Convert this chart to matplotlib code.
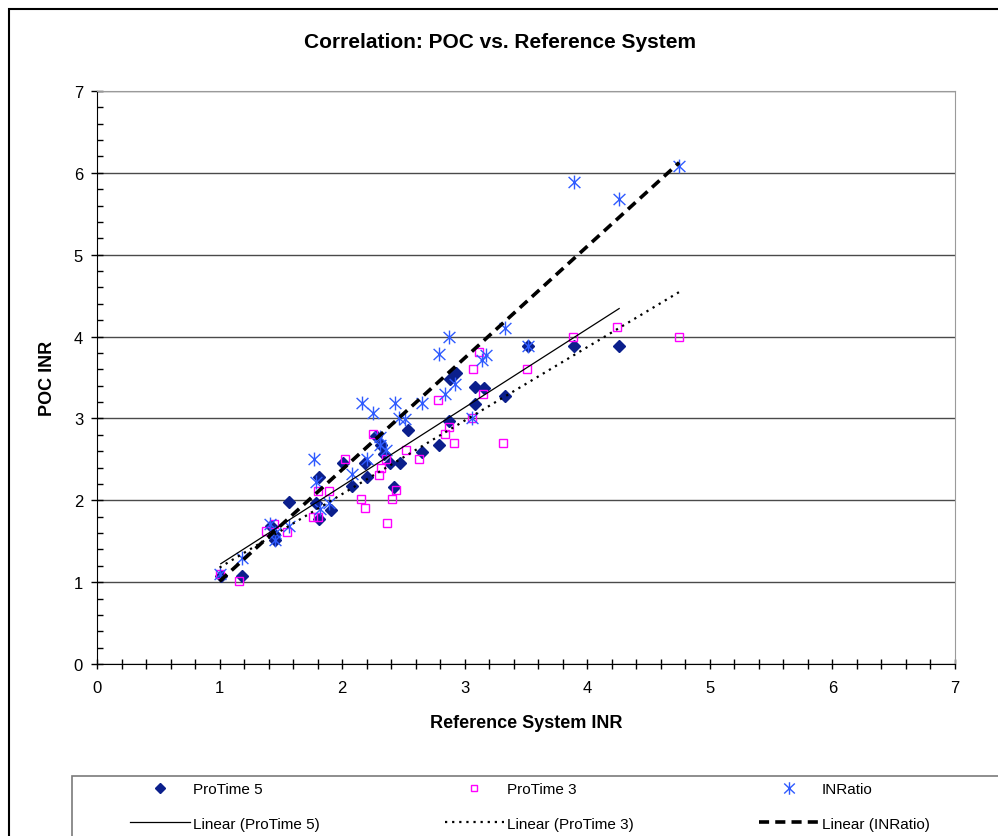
import matplotlib.pyplot as plt
import numpy as np
from matplotlib.lines import Line2D
from matplotlib.patches import Rectangle
from matplotlib.path import Path
from matplotlib.ticker import MultipleLocator

plt.rcParams["font.family"] = ["Liberation Sans", "DejaVu Sans"]

# ProTime 5 (reference INR, POC INR)
pt5_ref = [1.01, 1.18, 1.42, 1.44, 1.45, 1.57, 1.79, 1.81, 1.81, 1.91,
           2.01, 2.08, 2.19, 2.20, 2.28, 2.32, 2.34, 2.39, 2.42, 2.47,
           2.54, 2.65, 2.79, 2.87, 2.88, 2.93, 3.08, 3.16, 3.08, 3.33,
           3.52, 3.89, 4.26]
pt5_poc = [1.08, 1.07, 1.69, 1.59, 1.52, 1.98, 1.97, 2.28, 1.77, 1.88,
           2.46, 2.17, 2.46, 2.28, 2.79, 2.67, 2.57, 2.46, 2.16, 2.46,
           2.86, 2.59, 2.68, 2.97, 3.48, 3.56, 3.38, 3.37, 3.18, 3.27,
           3.89, 3.88, 3.88]

# ProTime 3
pt3_ref = [1.00, 1.16, 1.38, 1.44, 1.55, 1.76, 1.80, 1.80, 1.89, 2.02,
           2.15, 2.19, 2.25, 2.30, 2.32, 2.36, 2.37, 2.41, 2.44, 2.52,
           2.63, 2.78, 2.84, 2.87, 2.91, 3.06, 3.07, 3.12, 3.15, 3.31,
           3.51, 3.88, 4.24, 4.75]
pt3_poc = [1.10, 1.02, 1.62, 1.71, 1.61, 1.80, 1.80, 2.11, 2.11, 2.50,
           2.01, 1.91, 2.81, 2.31, 2.40, 2.50, 1.72, 2.01, 2.12, 2.61,
           2.50, 3.22, 2.81, 2.90, 2.70, 3.01, 3.60, 3.81, 3.30, 2.70,
           3.60, 4.00, 4.12, 4.00]

# INRatio
inr_ref = [1.00, 1.18, 1.41, 1.45, 1.45, 1.57, 1.77, 1.79, 1.82, 1.89,
           2.08, 2.16, 2.20, 2.25, 2.31, 2.31, 2.36, 2.43, 2.46, 2.51,
           2.65, 2.79, 2.84, 2.87, 2.92, 3.06, 3.14, 3.17, 3.33, 3.52,
           3.89, 4.26, 4.75]
inr_poc = [1.10, 1.29, 1.71, 1.51, 1.60, 1.68, 2.50, 2.22, 1.89, 1.97,
           2.32, 3.19, 2.50, 3.07, 2.77, 2.67, 2.61, 3.19, 3.01, 2.99,
           3.19, 3.79, 3.30, 3.99, 3.42, 3.01, 3.71, 3.77, 4.11, 3.89,
           5.89, 5.68, 6.08]

series_names = ["ProTime 5", "ProTime 3", "INRatio"]

W, H = 998, 837
fig = plt.figure(figsize=(W / 100, H / 100), dpi=100)
ax = fig.add_axes([97 / W, 1 - 665 / H, 858 / W, 573 / H])

c5 = "#0b1f8c"
c3 = "#ff00ff"
ci = "#2f5bff"
# Excel-style asterisk: an X with a vertical stroke through it
asterisk = Path(
    [(0, -1), (0, 1), (-0.85, -0.8), (0.85, 0.8), (-0.85, 0.8), (0.85, -0.8)],
    [Path.MOVETO, Path.LINETO] * 3,
)
dotted = (0, (1, 2.2))
dashed = (0, (2.8, 1.7))

ax.plot(pt5_ref, pt5_poc, linestyle="none", marker="D", ms=6.3,
        color=c5, zorder=3)
ax.plot(pt3_ref, pt3_poc, linestyle="none", marker="s", ms=5.6,
        mfc="none", mec=c3, mew=1.0, zorder=4)
ax.plot(inr_ref, inr_poc, linestyle="none", marker=asterisk, ms=10,
        mec=ci, mfc="none", mew=1.0, zorder=5)


def trend(xs, ys):
    xs = np.asarray(xs)
    k, b = np.polyfit(xs, np.asarray(ys), 1)
    xx = np.array([xs.min(), xs.max()])
    return xx, k * xx + b


x5, y5 = trend(pt5_ref, pt5_poc)
x3, y3 = trend(pt3_ref, pt3_poc)
xi, yi = trend(inr_ref, inr_poc)
ax.plot(x5, y5, color="black", lw=0.9, zorder=6)
ax.plot(x3, y3, color="black", lw=1.6, linestyle=dotted, zorder=6)
ax.plot(xi, yi, color="black", lw=2.6, linestyle=dashed, zorder=6)

ax.set_xlim(0, 7)
ax.set_ylim(0, 7)
ax.xaxis.set_major_locator(MultipleLocator(1))
ax.xaxis.set_minor_locator(MultipleLocator(0.2))
ax.yaxis.set_major_locator(MultipleLocator(1))
ax.yaxis.set_minor_locator(MultipleLocator(0.2))
ax.tick_params(axis="x", which="both", direction="inout", length=7,
               width=1, labelsize=12, pad=8)
ax.tick_params(axis="y", which="major", direction="inout", length=8,
               width=1, labelsize=12, pad=6)
ax.tick_params(axis="y", which="minor", direction="in", length=4, width=1)
ax.grid(axis="y", which="major", color="#4a4a4a", lw=1.0)
ax.set_axisbelow(True)
for side in ["top", "right"]:
    ax.spines[side].set_color("#9a9a9a")
for side in ["left", "bottom"]:
    ax.spines[side].set_color("black")

fig.text(500 / W, 1 - 43 / H, "Correlation: POC vs. Reference System",
         ha="center", va="center", fontsize=15, fontweight="bold")
fig.text(526 / W, 1 - 724 / H, "Reference System INR",
         ha="center", va="center", fontsize=13, fontweight="bold")
fig.text(47 / W, 1 - 378 / H, "POC INR", ha="center", va="center",
         rotation=90, fontsize=13, fontweight="bold")

# outer chart frame (cut off at right and bottom)
fig.add_artist(Rectangle((9 / W, -0.1), 1.2, 1 - 10 / H + 0.1,
                         transform=fig.transFigure, fill=False,
                         edgecolor="black", lw=1.5))
# legend frame
fig.add_artist(Rectangle((72 / W, -0.1), 1.2, 1 - 777 / H + 0.1,
                         transform=fig.transFigure, fill=False,
                         edgecolor="#7a7a7a", lw=1.2))

handles = [
    Line2D([], [], linestyle="none", marker="D", ms=5, color=c5),
    Line2D([], [], color="black", lw=0.9),
    Line2D([], [], linestyle="none", marker="s", ms=4, mfc="none",
           mec=c3, mew=1.0),
    Line2D([], [], color="black", lw=1.6, linestyle=dotted),
    Line2D([], [], linestyle="none", marker=asterisk, ms=9, mec=ci,
           mfc="none", mew=1.0),
    Line2D([], [], color="black", lw=2.6, linestyle=dashed),
]
labels = [series_names[0], "Linear (" + series_names[0] + ")",
          series_names[1], "Linear (" + series_names[1] + ")",
          series_names[2], "Linear (" + series_names[2] + ")"]
fig.legend(handles, labels, ncol=3, loc="upper left",
           bbox_to_anchor=(130 / W, 1 - 783 / H), frameon=False,
           fontsize=11, handlelength=3.9, handletextpad=0.2,
           columnspacing=8.2, labelspacing=1.35, borderpad=0,
           borderaxespad=0, numpoints=1)

fig.savefig("out.png", dpi=100)
